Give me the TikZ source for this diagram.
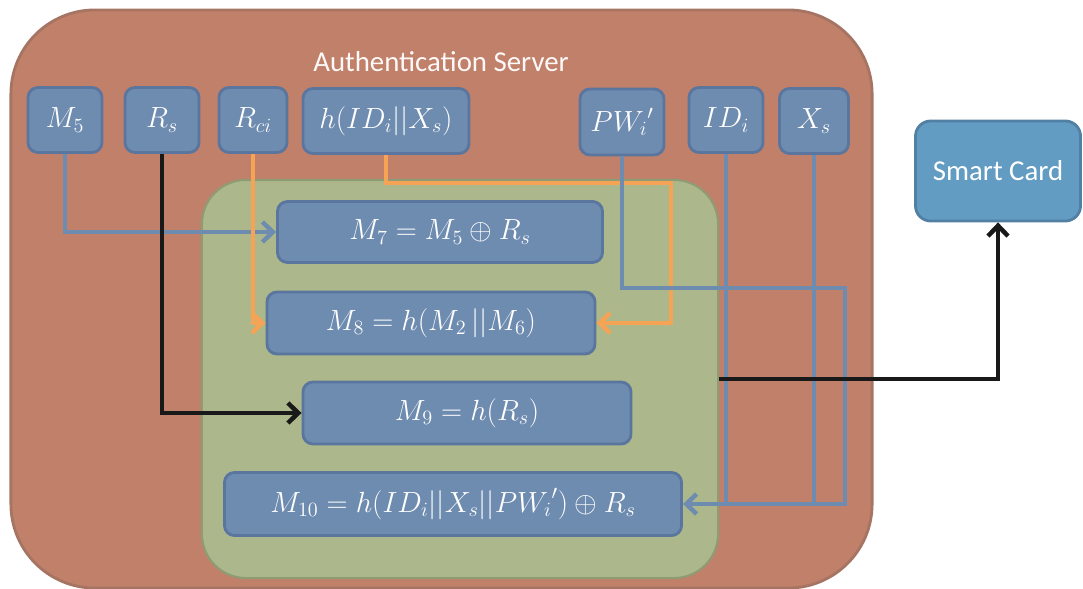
\documentclass[tikz,border=0pt]{standalone}
\usepackage{fontspec}
\setmainfont{Carlito}
\usepackage{amsmath,amssymb}
\usetikzlibrary{arrows.meta,positioning}
\definecolor{server}{RGB}{193,128,106}
\definecolor{serverline}{RGB}{166,116,98}
\definecolor{calc}{RGB}{172,184,139}
\definecolor{calcline}{RGB}{142,155,115}
\definecolor{val}{RGB}{110,139,176}
\definecolor{valline}{RGB}{90,117,158}
\definecolor{card}{RGB}{98,156,194}
\definecolor{cardline}{RGB}{82,128,165}
\definecolor{flow}{RGB}{244,164,84}

\begin{document}
\begin{tikzpicture}[x=0.025cm,y=-0.025cm,
    valbox/.style={draw=valline,fill=val,line width=2pt,rounded corners=0.25cm,
      inner sep=0pt,text=white,font=\fontsize{22}{24}\selectfont},
    wire/.style={line width=3.2pt,-{Straight Barb[length=2.6mm,width=5mm]}},
    plain/.style={line width=3.2pt}]
  \useasboundingbox (0,0) rectangle (1083,589);
  % containers
  \node[draw=serverline,fill=server,line width=2pt,rounded corners=2.1cm,
    minimum width=21.525cm,minimum height=14.45cm,inner sep=0pt] (srv) at (441.5,299) {};
  \node[text=white!95!server,font=\fontsize{20.5}{23}\selectfont] (srvlabel) at (441,62) {Authentication Server};
  \node[draw=calcline,fill=calc,line width=1.5pt,rounded corners=1.1cm,
    minimum width=12.9cm,minimum height=9.95cm,inner sep=0pt] (green) at (460,379) {};
  % stored values
  \node[valbox,minimum width=1.85cm,minimum height=1.625cm] (m5) at (65,120) {$M_5$};
  \node[valbox,minimum width=1.85cm,minimum height=1.625cm] (rs) at (162,120) {$R_s$};
  \node[valbox,minimum width=1.7cm,minimum height=1.625cm] (rci) at (253,120) {$R_{ci}$};
  \node[valbox,minimum width=4.15cm,minimum height=1.625cm] (hidx) at (386,121) {$h(ID_i||X_s)$};
  \node[valbox,minimum width=2.1cm,minimum height=1.65cm] (pw) at (622,122) {${PW_i}'$};
  \node[valbox,minimum width=1.85cm,minimum height=1.625cm] (idi) at (726,120) {$ID_i$};
  \node[valbox,minimum width=1.725cm,minimum height=1.625cm] (xs) at (814,121) {$X_s$};
  % computed messages
  \node[valbox,minimum width=8.125cm,minimum height=1.525cm] (m7) at (440,232) {$M_7=M_5\oplus R_s$};
  \node[valbox,minimum width=8.2cm,minimum height=1.55cm] (m8) at (431,323) {$M_8=h(M_2\,||M_6)$};
  \node[valbox,minimum width=8.2cm,minimum height=1.55cm] (m9) at (467,413) {$M_9=h(R_s)$};
  \node[valbox,minimum width=11.425cm,minimum height=1.575cm] (m10) at (453,504) {$M_{10}=h(ID_i||X_s||{PW_i}')\oplus R_s$};
  \node[draw=cardline,fill=card,line width=2pt,rounded corners=0.38cm,
    minimum width=4.125cm,minimum height=2.5cm,inner sep=0pt,text=white,
    font=\fontsize{20.5}{23}\selectfont] (sc) at (998,171) {Smart Card};
  % bends
  \coordinate (obend) at (671,183);
  \coordinate (bbend) at (845,288);
  % connectors
  \draw[wire,val] (m5.south) |- (m7.west);
  \draw[wire,flow] (rci.south) |- (m8.west);
  \draw[wire,flow] (hidx.south) |- (obend) |- (m8.east);
  \draw[wire,val] (pw.south) |- (bbend) |- (m10.east);
  \draw[plain,val] (idi.south) -- (idi.south |- m10.east);
  \draw[plain,val] (xs.south) -- (xs.south |- m10.east);
  \draw[wire,black!90] (rs.south) |- (m9.west);
  \draw[wire,black!90] (green.east) -| (sc.south);
\end{tikzpicture}
\end{document}
